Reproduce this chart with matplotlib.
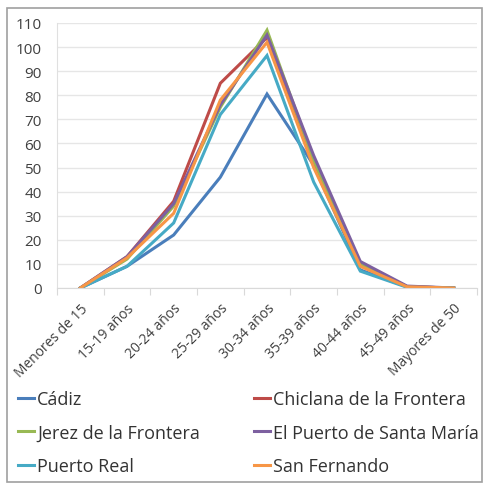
import matplotlib.pyplot as plt
from matplotlib.patches import Rectangle

categories = ["Menores de 15", "15-19 años", "20-24 años", "25-29 años", "30-34 años",
              "35-39 años", "40-44 años", "45-49 años", "Mayores de 50"]

cadiz = [0, 9, 22, 46, 80.5, 51, 7.5, 0.5, 0]
chiclana = [0, 13, 36, 85, 104, 52, 10, 0.5, 0]
jerez = [0, 12, 34, 75, 107, 53, 10, 0.5, 0]
el_puerto = [0, 13, 35, 76, 105, 55, 11, 0.8, 0]
puerto_real = [0, 9, 27, 72, 96.5, 44, 7, 0.3, 0]
san_fernando = [0, 12.5, 31, 78, 102, 50, 9, 0.5, 0]

series = [
    ("Cádiz", cadiz, "#4A7EBB"),
    ("Chiclana de la Frontera", chiclana, "#BE4B48"),
    ("Jerez de la Frontera", jerez, "#98B954"),
    ("El Puerto de Santa María", el_puerto, "#7D60A0"),
    ("Puerto Real", puerto_real, "#46AAC5"),
    ("San Fernando", san_fernando, "#F79646"),
]

plt.rcParams["font.family"] = ["Open Sans", "DejaVu Sans"]

fig = plt.figure(figsize=(4.84, 4.85), dpi=100)
fig.patches.append(Rectangle((7 / 484, 2 / 485), 475 / 484, 474 / 485,
                             transform=fig.transFigure, fill=False,
                             edgecolor="#A0A0A0", linewidth=1.2))

ax = fig.add_axes([57 / 484, 1 - 289 / 485, 420 / 484, 265 / 485])

x = list(range(len(categories)))
handles = {}
for name, vals, color in series:
    line, = ax.plot(x, vals, color=color, linewidth=2.2, label=name,
                    solid_joinstyle="miter")
    handles[name] = line

ax.set_xlim(-0.5, len(categories) - 0.5)
ax.set_ylim(0, 110)
ax.set_yticks(range(0, 111, 10))
ax.tick_params(axis="y", length=0, labelsize=11, colors="#404040", pad=11)
ax.yaxis.grid(True, color="#E6E6E6", linewidth=1)
ax.set_axisbelow(True)

ax.set_xticks([i - 0.5 for i in range(len(categories) + 1)])
ax.set_xticklabels([])
ax.set_xticks(x, minor=True)
ax.set_xticklabels(categories, minor=True, rotation=45, ha="right",
                   rotation_mode="anchor", fontsize=10, color="#404040")
ax.tick_params(axis="x", which="major", length=5, color="#D9D9D9")
ax.tick_params(axis="x", which="minor", length=0, pad=9)

for side in ["top", "right"]:
    ax.spines[side].set_visible(False)
ax.spines["left"].set_color("#E0E0E0")
ax.spines["bottom"].set_color("#D9D9D9")

order = ["Cádiz", "Jerez de la Frontera", "Puerto Real",
         "Chiclana de la Frontera", "El Puerto de Santa María", "San Fernando"]
fig.legend([handles[n] for n in order], order, ncol=2, loc="upper left",
           bbox_to_anchor=(11 / 484, 1 - 384 / 485), frameon=False,
           fontsize=13, handlelength=0.9, handletextpad=0.15,
           columnspacing=3.0, labelspacing=0.85, borderaxespad=0,
           labelcolor="#333333")

fig.savefig("out.png", dpi=100)
